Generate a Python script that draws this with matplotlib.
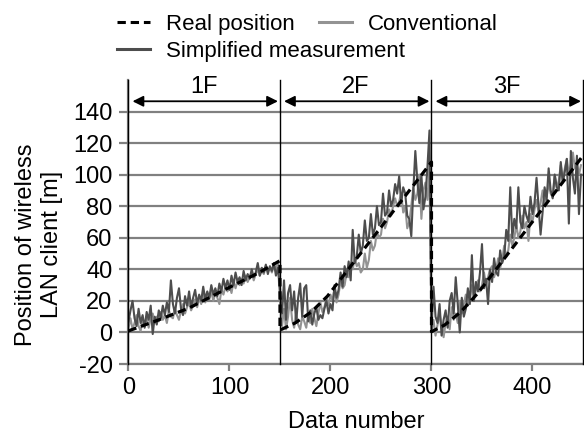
import matplotlib
matplotlib.use("Agg")
import matplotlib.pyplot as plt

plt.rcParams['font.family'] = ['Liberation Sans', 'DejaVu Sans']
plt.rcParams['lines.scale_dashes'] = False
plt.rcParams['axes.unicode_minus'] = False

# ---------------- data ----------------
floors = ["1F", "2F", "3F"]
floor_bounds = [0, 150, 300, 450]

# real position (piecewise path, vertices)
real_x = [0, 30, 60, 95, 128, 150, 150, 165, 181, 197, 300, 300, 313, 329, 346, 450]
real_y = [1, 8, 15.5, 27, 37.5, 45.5, 1.5, 6, 13, 23, 108, 0.5, 4.7, 13, 25, 112]

# sampled data numbers (every 2nd)
data_x = list(range(0, 450, 2))

simplified_1f = [
    7, 14, 20, 9, 4, 15, 6, 11, 3, 13, 8, 17, -1, 10, 5,
    14, 9, 17, 11, 19, 13, 33, 18, 12, 22, 28, 15, 11, 23, 17,
    26, 16, 22, 27, 18, 24, 20, 29, 21, 26, 22, 30, 24, 28, 23,
    31, 26, 34, 28, 33, 27, 36, 30, 38, 32, 35, 30, 39, 33, 37,
    34, 40, 35, 38, 44, 36, 41, 38, 43, 37, 42, 39, 44, 36, 41,
]
simplified_2f = [
    28, 12, 33, 8, 25, 30, 14, 26, 6, 22, 31, 10, 28, 30, 7,
    14, 5, 12, 16, 8, 11, 9, 15, 20, 12, 18, 14, 30, 22, 27,
    38, 29, 42, 35, 45, 33, 65, 44, 48, 62, 50, 55, 71, 58, 60,
    75, 62, 66, 80, 68, 70, 88, 74, 76, 90, 80, 84, 94, 88, 99,
    82, 92, 88, 74, 72, 61, 90, 115, 96, 82, 100, 78, 86, 105, 128,
]
simplified_3f = [
    2, 29, 10, 6, 18, -2, 8, 14, 3, 20, 25, 12, 35, 18, 0,
    22, 10, 15, 28, 18, 49, 20, 32, 26, 38, 56, 28, 34, 18, 40,
    32, 47, 38, 36, 52, 44, 48, 65, 58, 92, 60, 72, 66, 92, 70,
    66, 80, 74, 70, 86, 75, 82, 98, 80, 62, 76, 92, 84, 104, 90,
    85, 100, 92, 90, 108, 95, 102, 110, 69, 115, 98, 88, 112, 75, 100,
]

conventional_1f = [
    3, 9, 2, 6, 11, 4, 1, 8, 5, 10, 3, 9, 12, 6, 10,
    7, 13, 8, 11, 6, 14, 10, 9, 15, 11, 8, 14, 18, 12, 16,
    19, 14, 17, 21, 16, 22, 18, 24, 19, 23, 21, 26, 20, 25, 22,
    18, 27, 24, 29, 26, 30, 25, 32, 28, 33, 30, 34, 31, 36, 32,
    35, 38, 33, 37, 40, 36, 39, 37, 42, 39, 41, 38, 43, 40, 44,
]
conventional_2f = [
    20, 4, 15, 2, 10, 22, 8, 3, 12, 5, 2, 10, 7, 3, 12,
    6, 15, 9, 4, 12, 19, 13, 16, 22, 17, 24, 20, 28, 19, 24,
    33, 28, 30, 38, 35, 44, 40, 47, 42, 44, 38, 40, 50, 41, 46,
    58, 52, 55, 64, 60, 62, 72, 66, 70, 78, 74, 80, 85, 80, 83,
    88, 76, 80, 66, 70, 80, 92, 84, 88, 100, 72, 90, 95, 84, 104,
]
conventional_3f = [
    1, 8, -2, 5, 12, 4, -3, 6, 10, 2, 16, 8, 12, 6, 20,
    12, 18, 24, 17, 22, 30, 22, 27, 33, 26, 30, 38, 30, 35, 40,
    42, 35, 40, 47, 41, 46, 55, 48, 52, 62, 55, 60, 68, 60, 64,
    74, 66, 70, 58, 75, 70, 78, 84, 76, 82, 90, 82, 86, 95, 88,
    86, 100, 92, 96, 106, 96, 104, 110, 100, 106, 114, 104, 108, 100, 106,
]

simplified = simplified_1f + simplified_2f + simplified_3f
conventional = conventional_1f + conventional_2f + conventional_3f

x_ticks = [0, 100, 200, 300, 400]
y_ticks = [-20, 0, 20, 40, 60, 80, 100, 120, 140]

# ---------------- figure ----------------
fig = plt.figure(figsize=(5.84, 4.37), dpi=100)
ax = fig.add_axes([0.2200, 0.1670, 0.780, 0.650])

grid_c = '#808080'
ax.set_xlim(0, 451)
ax.set_ylim(-20, 160)
ax.set_xticks(x_ticks)
ax.set_yticks(y_ticks)
ax.grid(axis='y', color=grid_c, lw=1.6, zorder=0)
ax.set_axisbelow(True)

for s in ['top', 'right']:
    ax.spines[s].set_visible(False)
for s in ['left', 'bottom']:
    ax.spines[s].set_color(grid_c)
    ax.spines[s].set_linewidth(1.6)

ax.tick_params(axis='both', colors=grid_c, width=1.6, labelsize=17, labelcolor='black')
ax.tick_params(axis='y', length=6.5, pad=5)
ax.tick_params(axis='x', length=5, pad=4)

ln_conv, = ax.plot(data_x, conventional, color='#939393', lw=1.5, zorder=3)
ln_simp, = ax.plot(data_x, simplified, color='#4d4d4d', lw=1.5, zorder=4)
ln_real, = ax.plot(real_x, real_y, color='black', lw=2.3, ls=(0, (6, 3.5)), zorder=5)

# floor separators and arrows
for b in floor_bounds:
    ax.axvline(b, color='black', lw=1.0, zorder=6, clip_on=False)
for i, name in enumerate(floors):
    x0, x1 = floor_bounds[i], floor_bounds[i + 1]
    ax.annotate('', xy=(x1 - 2, 146.5), xytext=(x0 + 4, 146.5),
                arrowprops=dict(arrowstyle='<|-|>', color='black', lw=1.3,
                                mutation_scale=16, shrinkA=0, shrinkB=0),
                annotation_clip=False)
    ax.text((x0 + x1) / 2, 155.5, name, ha='center', va='center', fontsize=17)

ax.set_xlabel('Data number', fontsize=17, labelpad=9)
ax.set_ylabel('Position of wireless\nLAN client [m]', fontsize=17)
ax.yaxis.set_label_coords(-0.196, 0.42)
ax.yaxis.label.set_verticalalignment('center')

leg1 = fig.legend([ln_real, ln_conv], ['Real position', 'Conventional'], ncol=2,
                  loc='upper left', bbox_to_anchor=(117 / 584, 1 - 14 / 437),
                  frameon=False, fontsize=16, handlelength=1.5, handletextpad=0.7,
                  columnspacing=1.1, borderpad=0, borderaxespad=0)
leg2 = fig.legend([ln_simp], ['Simplified measurement'],
                  loc='upper left', bbox_to_anchor=(117 / 584, 1 - 41 / 437),
                  frameon=False, fontsize=16, handlelength=1.5, handletextpad=0.7,
                  borderpad=0, borderaxespad=0)
for lg in (leg1, leg2):
    for h in lg.legend_handles:
        h.set_linewidth(2.2)

fig.savefig('out.png', dpi=100)
